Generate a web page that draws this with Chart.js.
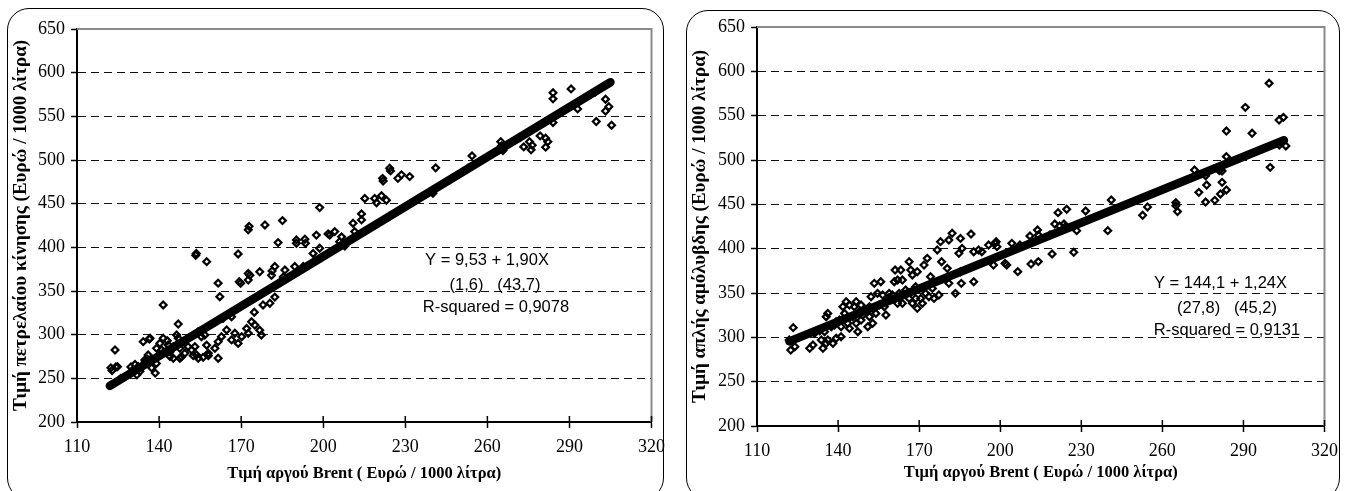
<!DOCTYPE html>
<html>
<head>
<meta charset="utf-8">
<script src="https://cdn.jsdelivr.net/npm/chart.js@4/dist/chart.umd.min.js"></script>
<style>
  html, body { margin: 0; padding: 0; background: #fff; width: 1346px; height: 491px; overflow: hidden; }
  .frame { position: absolute; border: 1.5px solid #000; border-radius: 22px; box-sizing: border-box; }
  #frameA { left: 7px; top: 8px; width: 657px; height: 492px; }
  #frameB { left: 686px; top: 10px; width: 654px; height: 490px; }
  .wrap { position: absolute; top: 0; width: 673px; height: 491px; }
  #wrapA { left: 0; }
  #wrapB { left: 673px; }
  canvas { display: block; }
</style>
</head>
<body>
<div class="frame" id="frameA"></div>
<div class="frame" id="frameB"></div>
<div class="wrap" id="wrapA"><canvas id="chartA"></canvas></div>
<div class="wrap" id="wrapB"><canvas id="chartB"></canvas></div>
<script>
// Brent crude price vs. diesel price (EUR / 1000 litres)
const brentA = [
  122.4,122.8,123.9,124.2,124.8,126,129.7,130.5,131.2,131.9,132.4,133,134.2,136.4,135,135.8,138.6,137.3,134.8,136,
  136.7,139,139.1,140.3,140.9,141.5,141.5,143,143.3,144,144,145.2,145.2,146.4,147,147,147.6,147.6,148.2,149.4,
  150.6,151.9,152.5,153.1,153.7,154.3,154.3,155.5,156.1,156.7,157.4,158,158,153.6,153.4,157.4,160.4,161.6,161.6,161.6,
  162.2,162.8,163.4,164.7,166.5,166.5,167.7,168.9,168.9,169.3,169.8,170.2,172,172.6,172.6,172.6,173.2,173.8,174.8,175,
  176.8,176.8,177.4,178,180.5,182.3,181.1,181.3,182.3,186,185.4,172.6,172.9,178.7,185.1,183.5,189.6,192.7,190.2,190.2,
  193.3,193.5,196.3,198.7,197.5,198.7,201.8,202.4,204.2,206.7,206,207.9,210.9,211.5,214,214,215.2,218.8,219.5,221.3,
  223.1,221.7,221.9,224.3,224.6,227.3,228.6,231.6,240.1,241.1,252.9,254.4,264.9,265.1,265.7,272,273.3,275.4,276,276.4,
  279.3,281.3,282.1,281.3,284,284,284,290.6,293,299.4,299.8,303.2,303.2,304.4,305.4
];
const dieselA = [
  262,259,282.5,263,263.4,250,263,260,266,254,263.4,258,292,295,269,272,256,262,271,276.7,
  295.9,267,284.4,290.1,282.5,334,295.9,293,288.2,280.5,275,286.3,273,299.7,312.2,295.9,284.4,273,274.8,278.7,
  286.3,282.5,276,286.3,276.7,303.4,273,297.7,274,299.7,288,278.7,276,393,391,383.6,284.4,273,292,359,
  343.5,297.7,318.8,305.4,320.6,294,301.6,290,392.4,360.7,358.8,297.7,307,301.6,370,362.6,368,314.7,325.7,311,
  305,372,299.7,334,336,343,368,373,378,374,366,420,424,425.6,430.6,405.4,378,378,408.5,404.7,
  409.3,404.7,393,399,414,445.5,415.4,414,418,412,406.5,401.6,427.6,418,438.3,431.4,456,456,451,459,
  454,479,476,490.6,487.5,479,483,481,462,491,490.6,504.7,521,516,510.8,525.7,515,521,511.6,517,
  527.6,525,521,514.7,577,570,543,581.4,558.5,577.7,544,569.6,556,561,539.8
];

// Brent crude price vs. unleaded petrol price (EUR / 1000 litres)
const brentB = [
  121.9,122.5,123.4,124,129.5,130.7,131.3,133.2,134.4,133.8,135,135.6,136.2,136.2,135.6,138.1,137.5,138.7,139.3,139.3,
  140.5,141.1,141.1,141.8,142.4,143,143.6,144.2,144.2,145.4,146,146.7,146.7,147.3,147.9,148.5,148.5,149.1,150.3,151,
  151.6,151.6,152.2,152.8,153.4,154,154,154.6,155.2,155.8,156.5,157.1,157.7,158.3,158.9,160.1,160.8,161.1,162,162,
  162.6,163.2,163.8,163.8,165,166.3,166.3,166.9,167.5,167.5,168.7,168.7,169.3,169.3,170.6,171.2,171.8,172.4,173,173.6,
  174.2,174.9,175.5,176.7,177.3,177.9,178.3,180.4,181,181,182.2,183.4,185.3,185.3,185.6,185.9,184.7,189.2,190.2,190.2,
  192,193.2,195.7,197.5,198.1,198.5,201.8,202.4,198.8,204.3,206.5,207.3,211,211.4,213.8,214.1,214.1,218.4,219.2,220.2,
  221.4,222,223.6,224.6,224.1,227.2,228.3,231.6,239.8,241.1,252.7,254.5,265,265,265.6,271.9,273.5,276,276.4,276,
  279.4,281.5,283.7,281.1,282.1,282.1,283.7,283.7,290.7,293.2,299.5,299.9,303.2,304.8,303.3,305.7
];
const unleadedB = [
  297,285.7,310.9,289.4,287.6,291.3,304.5,307.5,287.6,297,306.3,323.3,327,297,293.3,293.2,312,313.9,317.6,298.9,
  319.5,312,300.7,334.5,327,340.2,315.8,336.4,310.1,323.3,334.5,340.2,315.8,306.3,328.9,336.4,319.5,325.1,330.8,312,
  323.3,334.5,345.8,315.8,360.9,334.5,327,349.6,336.4,362.7,347.7,334.5,325.1,342.1,349.6,347.7,362.7,375.9,364.6,338.3,
  349.6,375.9,364.6,338.3,353.3,385.3,343.9,375.9,370.3,338.3,357.1,343.9,332.7,374,343.9,338.3,381.5,349.6,389.1,345.8,
  368.4,355.2,343.9,398.5,347.7,407.9,385.3,377.8,409.7,360.9,417.3,349.6,411.6,374,360.9,400.3,394.7,416.5,396.6,362.7,
  398.5,396.6,404.1,381.5,406,407.9,383.4,381.6,402.3,406,374.1,404.2,414.3,382.7,421,415.4,385.4,415.4,394,427.8,
  440.6,425.6,427.8,444.4,424.8,395.9,420.3,442.5,420.3,454.9,437.6,447,451.9,448.5,441.8,488.7,463.5,482.3,471.8,452.6,
  454.5,461.7,466.2,488,487.6,474.8,503.8,532.7,559.4,530.1,586.5,491.7,545.1,548.1,516.9,515.8
];

// Axis ranges and ticks
const xTicks = [110, 140, 170, 200, 230, 260, 290, 320];
const yTicks = [200, 250, 300, 350, 400, 450, 500, 550, 600, 650];
const xTitle = 'Τιμή αργού Brent ( Ευρώ / 1000 λίτρα)';
const yTitleA = 'Τιμή πετρελαίου κίνησης (Ευρώ / 1000 λίτρα)';
const yTitleB = 'Τιμή απλής αμόλυβδης (Ευρώ / 1000 λίτρα)';

// Fitted regressions (intercept, slope) and the Brent range they span
const fitA = [9.53, 1.90];
const fitB = [144.1, 1.24];
const fitRange = [122, 305];

// Regression statistics printed on each panel
const statsA = ['Y = 9,53 + 1,90X', '(1,6)   (43,7)', 'R-squared = 0,9078'];
const statsB = ['Y = 144,1 + 1,24X', '(27,8)   (45,2)', 'R-squared = 0,9131'];

const SERIF = '"Liberation Serif", "Times New Roman", serif';
const SANS = '"Liberation Sans", Arial, sans-serif';

// Gray frame on the top and right sides of the plot area
const plotFrame = {
  id: 'plotFrame',
  beforeDatasetsDraw(chart) {
    const { ctx, chartArea: a } = chart;
    ctx.save();
    ctx.strokeStyle = '#8a8a8a';
    ctx.lineWidth = 2;
    ctx.beginPath();
    ctx.moveTo(a.left, a.top);
    ctx.lineTo(a.right, a.top);
    ctx.lineTo(a.right, a.bottom);
    ctx.stroke();
    ctx.restore();
  }
};

// Tick marks on the x axis cross the axis line (inner half)
const innerXTicks = {
  id: 'innerXTicks',
  afterDraw(chart) {
    const { ctx, chartArea: a } = chart;
    const xs = chart.scales.x;
    ctx.save();
    ctx.strokeStyle = '#000';
    ctx.lineWidth = 1.5;
    xs.ticks.forEach(t => {
      const px = xs.getPixelForValue(t.value);
      ctx.beginPath();
      ctx.moveTo(px, a.bottom - 6);
      ctx.lineTo(px, a.bottom);
      ctx.stroke();
    });
    ctx.restore();
  }
};

// Regression statistics text block
const statsText = {
  id: 'statsText',
  afterDatasetsDraw(chart, args, opts) {
    const { ctx, chartArea: a } = chart;
    ctx.save();
    ctx.fillStyle = '#000';
    ctx.font = '16.5px ' + SANS;
    ctx.textAlign = 'center';
    ctx.textBaseline = 'middle';
    opts.lines.forEach((txt, i) => {
      ctx.fillText(txt, a.left + opts.dx[i], a.top + opts.dy[i]);
    });
    ctx.restore();
  }
};

function makeChart(id, xs, ys, fit, yTitle, stats, geo) {
  const points = xs.map((x, i) => ({ x: x, y: ys[i] }));
  const line = fitRange.map(x => ({ x: x, y: fit[0] + fit[1] * x }));
  return new Chart(document.getElementById(id), {
    type: 'scatter',
    data: {
      datasets: [
        {
          label: 'fit',
          data: line,
          showLine: true,
          borderColor: '#000',
          borderWidth: 8.5,
          borderCapStyle: 'round',
          pointRadius: 0,
          order: 0
        },
        {
          label: 'obs',
          data: points,
          pointStyle: 'rectRot',
          pointRadius: 3.4,
          pointBorderWidth: 2.2,
          borderColor: '#000',
          backgroundColor: 'rgba(0,0,0,0)',
          order: 1
        }
      ]
    },
    options: {
      responsive: true,
      maintainAspectRatio: false,
      animation: false,
      events: [],
      layout: { padding: geo.padding },
      plugins: {
        legend: { display: false },
        tooltip: { enabled: false },
        statsText: { lines: stats, dx: geo.textDx, dy: geo.textDy }
      },
      scales: {
        x: {
          type: 'linear',
          min: xTicks[0],
          max: xTicks[xTicks.length - 1],
          afterBuildTicks(scale) { scale.ticks = xTicks.map(v => ({ value: v })); },
          afterFit(scale) { scale.height = geo.xHeight; },
          grid: { drawOnChartArea: false, drawTicks: true, tickLength: 6, tickColor: '#000', tickWidth: 1.5 },
          border: { color: '#000', width: 2 },
          ticks: { color: '#000', padding: 8, maxRotation: 0, font: { family: SERIF, size: 18 } },
          title: {
            display: true, text: xTitle, color: '#000',
            font: { family: SERIF, size: 16.5, weight: 'bold' },
            padding: { top: 0, bottom: geo.xTitlePad }
          }
        },
        y: {
          type: 'linear',
          min: yTicks[0],
          max: yTicks[yTicks.length - 1],
          afterBuildTicks(scale) { scale.ticks = yTicks.map(v => ({ value: v })); },
          afterFit(scale) { scale.width = geo.yWidth; },
          grid: {
            drawTicks: true, tickLength: 6, tickColor: '#000', tickWidth: 1.5,
            lineWidth: 1,
            color: c => (c.tick && (c.tick.value === yTicks[0] || c.tick.value === yTicks[yTicks.length - 1])) ? 'rgba(0,0,0,0)' : '#111'
          },
          border: { color: '#000', width: 2, dash: [8, 5] },
          ticks: { color: '#000', padding: 6, font: { family: SERIF, size: 18 } },
          title: {
            display: true, text: yTitle, color: '#000',
            font: { family: SERIF, size: 19, weight: 'bold' },
            padding: { top: geo.yTitlePad, bottom: 0 }
          }
        }
      }
    },
    plugins: [plotFrame, innerXTicks, statsText]
  });
}

makeChart('chartA', brentA, dieselA, fitA, yTitleA, statsA, {
  padding: { left: 7, top: 29, right: 21, bottom: 0 },
  yWidth: 70, xHeight: 69, xTitlePad: 7, yTitlePad: 3,
  textDx: [410, 418, 419], textDy: [231, 256, 278]
});
makeChart('chartB', brentB, unleadedB, fitB, yTitleB, statsB, {
  padding: { left: 14, top: 27, right: 18, bottom: 0 },
  yWidth: 70, xHeight: 65, xTitlePad: 8, yTitlePad: 2,
  textDx: [463.5, 470, 470], textDy: [256, 281, 303]
});
</script>
</body>
</html>
